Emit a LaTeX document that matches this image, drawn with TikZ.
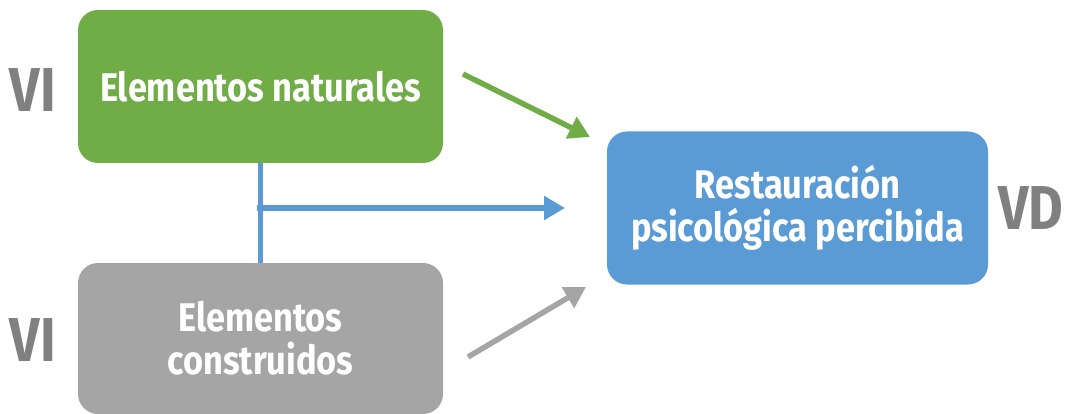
\documentclass[tikz,border=0pt]{standalone}
\usepackage{fontspec}
\setmainfont{Fira Sans}[FakeStretch=0.86]
\usetikzlibrary{arrows.meta}
\definecolor{verde}{HTML}{70AD47}
\definecolor{azul}{HTML}{5B9BD5}
\definecolor{gris}{HTML}{A5A5A5}
\definecolor{grisletra}{HTML}{808080}
\begin{document}
\begin{tikzpicture}[x=1pt,y=-1pt,
        caja/.style={rectangle,rounded corners=20pt,inner sep=0pt,text=white,align=center,
            font=\bfseries\fontsize{40}{43}\selectfont},
        var/.style={text=grisletra,font=\bfseries\fontsize{62}{64}\selectfont},
        flecha/.style={line width=5.5pt,-{Triangle[length=21pt,width=23pt]}}]
    \useasboundingbox (0,0) rectangle (1070,414);
    % cajas
    \node[caja,fill=verde,minimum width=365pt,minimum height=153pt] (natural) at (260.5,86.5) {Elementos naturales};
    \node[caja,fill=gris,minimum width=365pt,minimum height=151pt] (construido) at (260.5,338.5) {Elementos\\construidos};
    \node[caja,fill=azul,minimum width=381pt,minimum height=153pt] (restauracion) at (797.5,208) {Restauración\\psicológica percibida};
    % etiquetas
    \node[var] (vi1) at (33,90) {VI};
    \node[var] (vi2) at (33,340) {VI};
    \node[var] (vd) at (1031,208) {VD};
    % flechas
    \coordinate (g1) at (463,74);
    \coordinate (g2) at (590,137);
    \coordinate (b1) at (260,208);
    \coordinate (b2) at (565,208);
    \coordinate (c1) at (468,357);
    \coordinate (c2) at (586,287);
    \draw[flecha,verde] (g1) -- (g2);
    \draw[azul,line width=5.5pt] (natural.south) -- (construido.north);
    \draw[flecha,azul] ([xshift=-2.75pt]b1) -- (b2);
    \draw[flecha,gris] (c1) -- (c2);
\end{tikzpicture}
\end{document}
